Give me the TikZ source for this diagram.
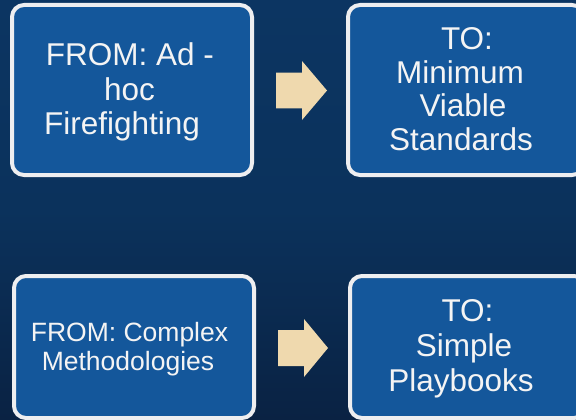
\documentclass[tikz,border=0pt]{standalone}
\usepackage{fontspec}
\setmainfont{Liberation Sans}
\definecolor{bgtop}{HTML}{0C3562}
\definecolor{bgmid}{HTML}{0B325C}
\definecolor{bgbot}{HTML}{0A2243}
\definecolor{boxfill}{HTML}{14579B}
\definecolor{boxline}{HTML}{EEEEF0}
\definecolor{txt}{HTML}{F4F4F4}
\definecolor{arrowc}{HTML}{EFD9AE}
\tikzset{
  box/.style={draw=boxline, line width=4pt, fill=boxfill, rounded corners=12pt, inner sep=0pt},
  big/.style={anchor=base, text=txt, inner sep=0pt, font=\fontsize{31.5}{34}\selectfont},
  small/.style={anchor=base, text=txt, inner sep=0pt, font=\fontsize{26.5}{28}\selectfont},
  blockarrow/.style={fill=arrowc}
}
\begin{document}
\begin{tikzpicture}[x=1pt,y=-1pt]
\useasboundingbox (0,0) rectangle (576,420);
\shade[top color=bgtop, bottom color=bgmid] (0,0) rectangle (576,210);
\shade[top color=bgmid, bottom color=bgbot] (0,210) rectangle (576,420);
% boxes
\node[box, minimum width=240pt, minimum height=170pt] (b1) at (132,90) {};
\node[box, minimum width=236pt, minimum height=170pt] (b2) at (466,90) {};
\node[box, minimum width=240pt, minimum height=142pt] (b3) at (134,347) {};
\node[box, minimum width=236pt, minimum height=142pt] (b4) at (468,347) {};
% arrows
\fill[blockarrow] (276,72.7) -- (302,72.7) -- (302,61) -- (327,90.5) -- (302,120) -- (302,108.3) -- (276,108.3) -- cycle;
\fill[blockarrow] (278,330) -- (304,330) -- (304,319) -- (328,348) -- (304,377) -- (304,366) -- (278,366) -- cycle;
% texts
\node[big] (t1a) at (130,66) {FROM: Ad -};
\node[big] (t1b) at (129.5,101) {hoc};
\node[big] (t1c) at (122,135) {Firefighting};
\node[big] (t2a) at (467,49.3) {TO:};
\node[big] (t2b) at (460,83.3) {Minimum};
\node[big] (t2c) at (463,116.7) {Viable};
\node[big] (t2d) at (461,150) {Standards};
\node[small] (t3a) at (129.5,341.7) {FROM: Complex};
\node[small] (t3b) at (128,370) {Methodologies};
\node[big] (t4a) at (467.5,321.7) {TO:};
\node[big] (t4b) at (464,356.7) {Simple};
\node[big] (t4c) at (461,391.7) {Playbooks};
\end{tikzpicture}
\end{document}
